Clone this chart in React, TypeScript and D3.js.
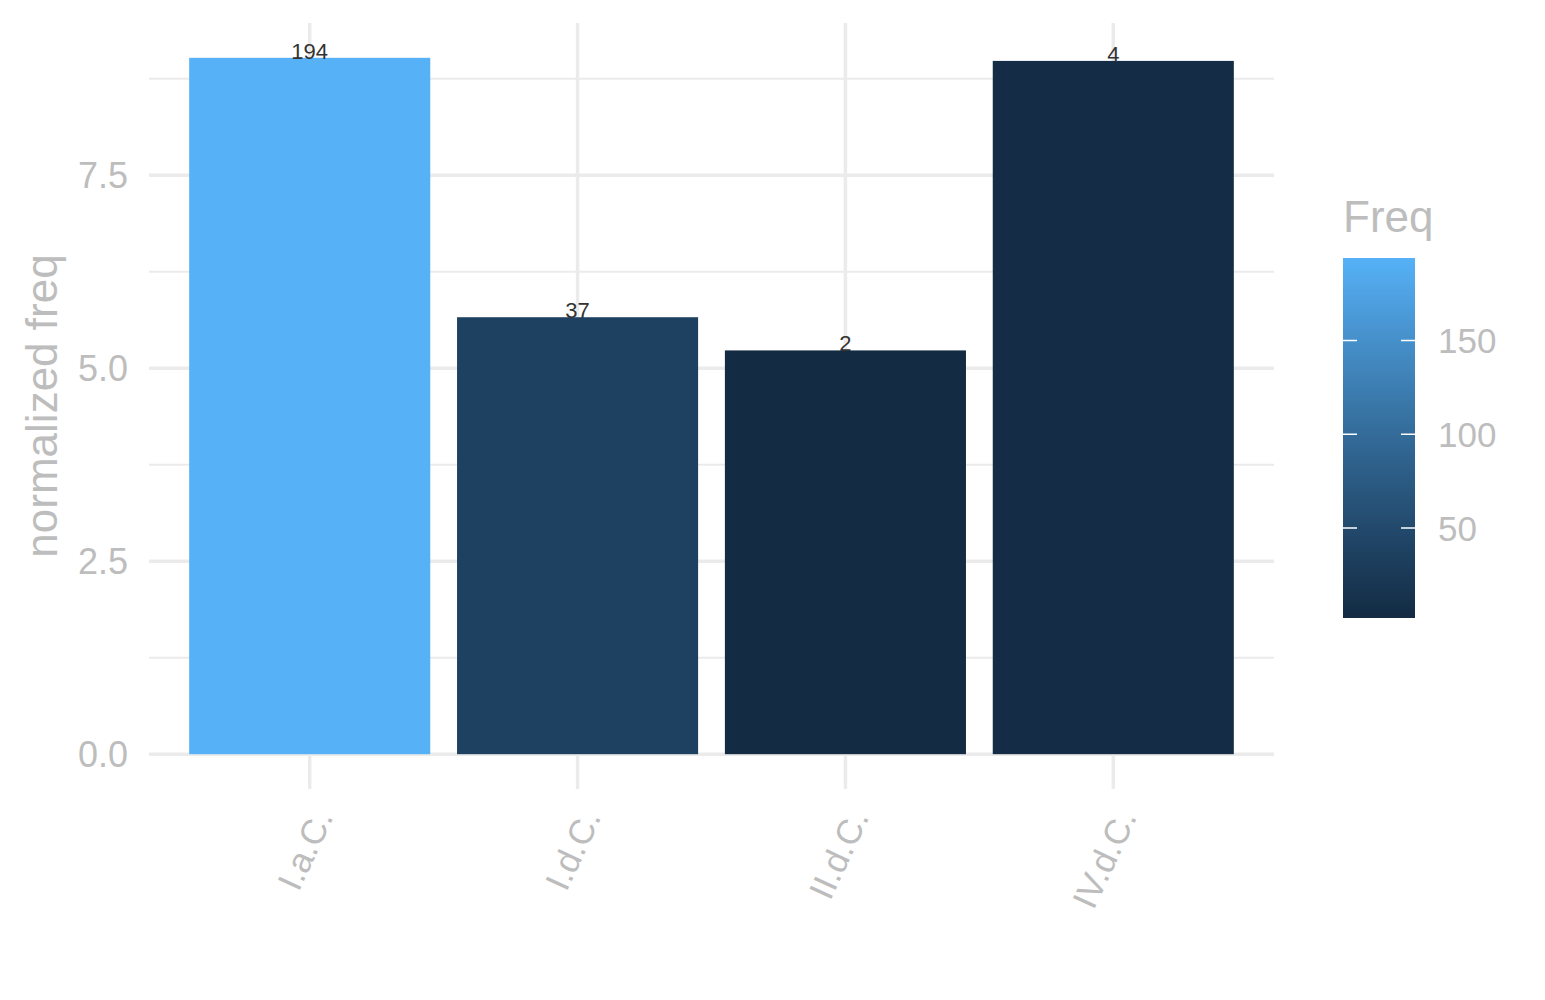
import React from 'react';
import * as d3 from 'd3';

// chart data
const categories = ['I.a.C.', 'I.d.C.', 'II.d.C.', 'IV.d.C.'];
const normFreq = [9.02, 5.66, 5.23, 8.98];
const freq = [194, 37, 2, 4];
const yTicks = [0, 2.5, 5, 7.5];
const legendTicks = [50, 100, 150];

const width = 1545;
const height = 1000;
const panel = { left: 149, right: 1274, top: 23, bottom: 789 };
const textGrey = '#BDBDBD';
const gridGrey = '#EBEBEB';
const font = '"Liberation Sans", Arial, sans-serif';

const App: React.FC = () => {
  const x = d3.scaleBand<string>()
    .domain(categories)
    .range([panel.left, panel.right])
    .paddingInner(0.1)
    .paddingOuter(0.15);

  const maxY = d3.max(normFreq) || 0;
  const y = d3.scaleLinear()
    .domain([-0.05 * maxY, maxY * 1.05])
    .range([panel.bottom, panel.top]);

  const freqExtent = d3.extent(freq) as [number, number];
  const color = d3.scaleLinear<string>()
    .domain(freqExtent)
    .range(['#132B43', '#56B1F7'])
    .interpolate(d3.interpolateLab);

  // legend colour bar
  const bar = { x: 1343, w: 72, top: 258, bottom: 618 };
  const legendY = d3.scaleLinear().domain(freqExtent).range([bar.bottom, bar.top]);
  const stops = d3.range(0, 1.0001, 0.05);

  const minorTicks = yTicks.map(t => t + 1.25);
  const step = x.step();

  return (
    <svg width={width} height={height} style={{ position: 'absolute', left: 0, top: 0 }} fontFamily={font}>
      <defs>
        <linearGradient id="freqGrad" x1="0" y1="1" x2="0" y2="0">
          {stops.map(s => (
            <stop key={s} offset={s} stopColor={color(freqExtent[0] + s * (freqExtent[1] - freqExtent[0]))} />
          ))}
        </linearGradient>
      </defs>
      <rect width={width} height={height} fill="white" />

      {/* grid */}
      {minorTicks.map(t => (
        <line key={'mn' + t} x1={panel.left} x2={panel.right} y1={y(t)} y2={y(t)} stroke={gridGrey} strokeWidth={2} />
      ))}
      {yTicks.map(t => (
        <line key={'mj' + t} x1={panel.left} x2={panel.right} y1={y(t)} y2={y(t)} stroke={gridGrey} strokeWidth={3.5} />
      ))}
      {categories.map(c => {
        const cx = (x(c) || 0) + x.bandwidth() / 2;
        return <line key={'v' + c} x1={cx} x2={cx} y1={panel.top} y2={panel.bottom} stroke={gridGrey} strokeWidth={3.5} />;
      })}

      {/* bars */}
      {categories.map((c, i) => (
        <rect key={'b' + c} x={x(c)} width={x.bandwidth()} y={y(normFreq[i])} height={y(0) - y(normFreq[i])} fill={color(freq[i])} />
      ))}
      {categories.map((c, i) => (
        <text key={'l' + c} x={(x(c) || 0) + x.bandwidth() / 2} y={y(normFreq[i]) + 1} textAnchor="middle" fontSize={22} fill="#333">
          {freq[i]}
        </text>
      ))}

      {/* y axis */}
      {yTicks.map(t => (
        <text key={'yt' + t} x={128} y={y(t)} dy="0.36em" textAnchor="end" fontSize={36} fill={textGrey}>
          {d3.format('.1f')(t)}
        </text>
      ))}
      <text transform={`translate(57,${(panel.top + panel.bottom) / 2}) rotate(-90)`} textAnchor="middle" fontSize={44} fill={textGrey}>
        normalized freq
      </text>

      {/* x axis labels */}
      {categories.map(c => {
        const cx = (x(c) || 0) + x.bandwidth() / 2;
        return (
          <text key={'xt' + c} transform={`translate(${cx + step * 0.09},817) rotate(-65)`} textAnchor="end" fontSize={35} fill={textGrey}>
            {c}
          </text>
        );
      })}

      {/* legend */}
      <text x={bar.x} y={232} fontSize={44} fill={textGrey}>Freq</text>
      <rect x={bar.x} y={bar.top} width={bar.w} height={bar.bottom - bar.top} fill="url(#freqGrad)" />
      {legendTicks.map(t => (
        <g key={'lg' + t}>
          <line x1={bar.x} x2={bar.x + 14} y1={legendY(t)} y2={legendY(t)} stroke="white" strokeWidth={1.5} />
          <line x1={bar.x + bar.w - 14} x2={bar.x + bar.w} y1={legendY(t)} y2={legendY(t)} stroke="white" strokeWidth={1.5} />
          <text x={1438} y={legendY(t)} dy="0.36em" fontSize={35} fill={textGrey}>{t}</text>
        </g>
      ))}
    </svg>
  );
};

export default App;
